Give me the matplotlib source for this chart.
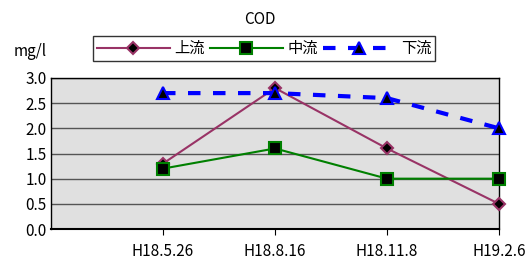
import numpy as np
import matplotlib
matplotlib.use("Agg")
import matplotlib.pyplot as plt

plt.rcParams['font.family'] = ['Noto Sans CJK JP', 'DejaVu Sans']

dates = ["H18.5.26", "H18.8.16", "H18.11.8", "H19.2.6"]
upstream = [1.3, 2.8, 1.6, 0.5]
midstream = [1.2, 1.6, 1.0, 1.0]
downstream = [2.7, 2.7, 2.6, 2.0]
yticks = [0.0, 0.5, 1.0, 1.5, 2.0, 2.5, 3.0]

x = np.arange(1, len(dates) + 1)

fig = plt.figure(figsize=(5.29, 2.62), dpi=100)
ax = fig.add_axes([51 / 529, 1 - 229 / 262, 448 / 529, 151 / 262])
ax.set_facecolor('#e0e0e0')

l1, = ax.plot(x, upstream, '-', color='#993366', lw=1.5, marker='D', ms=6,
              mfc='black', mec='#993366', mew=1.5, label='上流', clip_on=False, zorder=3)
l2, = ax.plot(x, midstream, '-', color='#008000', lw=1.5, marker='s', ms=8,
              mfc='black', mec='#008000', mew=1.5, label='中流', clip_on=False, zorder=3)
l3, = ax.plot(x, downstream, '--', color='#0000ff', lw=3, dashes=(3, 3), marker='^', ms=9,
              mfc='black', mec='#0000ff', mew=1.5, label='下流', clip_on=False, zorder=3)

ax.set_xlim(0, 4)
ax.set_ylim(0, 3)
ax.set_yticks(yticks)
ax.set_yticklabels([f"{v:.1f}" for v in yticks], fontsize=11)
ax.set_xticks(x)
ax.set_xticklabels(dates, fontsize=11)
ax.tick_params(axis='x', length=4, pad=6)
ax.tick_params(axis='y', length=0, pad=3)
ax.grid(axis='y', color='#555555', lw=1)
ax.set_axisbelow(True)
for s in ax.spines.values():
    s.set_linewidth(1)
ax.spines['bottom'].set_linewidth(1.5)

fig.text(260 / 529, 1 - 20 / 262, 'COD', ha='center', va='center', fontsize=11)
fig.text(30 / 529, 1 - 52 / 262, 'mg/l', ha='center', va='center', fontsize=11)

leg = fig.legend(handles=[l1, l2, l3], loc='center', ncol=3,
                 bbox_to_anchor=(264 / 529, 1 - 48.5 / 262),
                 fontsize=11, frameon=True, fancybox=False, edgecolor='black',
                 handlelength=4.8, handletextpad=0.3, columnspacing=0.3,
                 borderpad=0.25, borderaxespad=0)
leg.get_frame().set_linewidth(1)

fig.savefig('out.png', dpi=100)
